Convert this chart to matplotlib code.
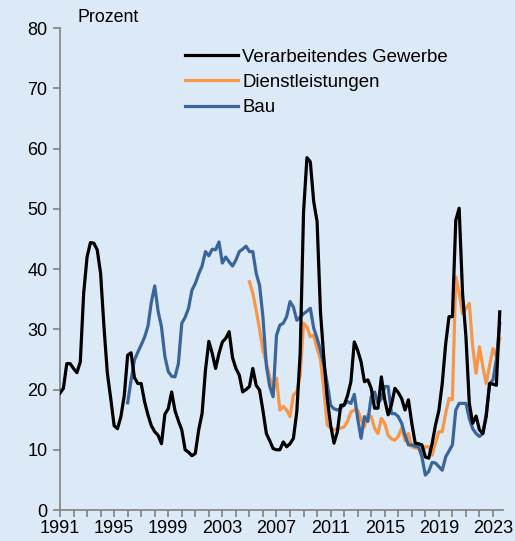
import matplotlib.pyplot as plt
import numpy as np
from matplotlib.ticker import MultipleLocator, FixedLocator

# Quartalswerte, Prozent
verarbeitendes = [19.4, 20.2, 24.3, 24.3,
                  23.5, 22.8, 24.6, 36.0,
                  42.0, 44.4, 44.3, 43.2,
                  39.3, 30.4, 22.7, 18.5,
                  14.0, 13.5, 15.5, 19.0,
                  25.7, 26.1, 22.0, 21.0,
                  21.0, 18.0, 15.8, 14.0,
                  13.0, 12.4, 11.0, 15.9,
                  16.8, 19.6, 16.5, 14.8,
                  13.3, 10.0, 9.6, 9.0,
                  9.4, 13.3, 16.0, 23.2,
                  28.0, 26.0, 23.5, 26.0,
                  27.9, 28.5, 29.6, 25.3,
                  23.5, 22.4, 19.6, 20.0,
                  20.5, 23.5, 20.7, 19.9,
                  16.5, 12.7, 11.5, 10.2,
                  10.0, 10.0, 11.3, 10.5,
                  11.0, 11.9, 16.3, 26.0,
                  49.5, 58.5, 57.8, 51.2,
                  47.9, 32.9, 25.2, 18.5,
                  14.1, 11.1, 13.0, 17.4,
                  17.4, 19.0, 21.3, 27.9,
                  26.5, 24.6, 21.3, 21.6,
                  20.2, 16.9, 16.9, 22.1,
                  18.3, 15.8, 17.5, 20.2,
                  19.5, 18.5, 16.6, 18.3,
                  14.4, 11.1, 11.0, 10.8,
                  8.8, 8.6, 11.0, 14.1,
                  16.5, 21.0, 27.5, 32.1,
                  32.1, 48.1, 50.1, 36.0,
                  28.8, 17.7, 14.4, 15.6,
                  13.3, 12.7, 15.5, 21.0,
                  20.9, 20.7, 32.9]

dienstleistungen = [37.9, 36.0, 33.2, 30.0,
                    26.5, 24.5, 22.0, 19.6,
                    21.9, 16.6, 17.2, 16.6,
                    15.5, 19.1, 19.6, 22.4,
                    31.0, 30.4, 28.8, 29.0,
                    26.8, 25.0, 20.0, 14.1,
                    13.6, 13.3, 13.5, 13.6,
                    13.8, 14.7, 16.3, 16.6,
                    16.6, 15.0, 13.8, 15.8,
                    15.5, 13.6, 12.7, 15.2,
                    14.4, 12.4, 11.8, 11.6,
                    12.2, 13.6, 11.5, 12.7,
                    10.5, 10.3, 10.2, 9.7,
                    10.5, 10.5, 9.1, 11.1,
                    13.0, 13.0, 16.0, 18.5,
                    18.3, 38.7, 36.0, 32.6,
                    33.5, 34.3, 27.1, 22.7,
                    27.1, 23.8, 21.0, 24.0,
                    26.8, 25.4, 28.5]

bau = [17.8, 21.5, 24.9, 26.2,
       27.4, 28.7, 30.5, 34.5,
       37.2, 33.0, 30.4, 25.5,
       23.0, 22.2, 22.1, 24.3,
       31.0, 32.0, 33.5, 36.5,
       37.6, 39.2, 40.5, 42.9,
       42.2, 43.3, 43.2, 44.5,
       41.0, 42.0, 41.2, 40.5,
       41.5, 42.9, 43.3, 43.8,
       42.9, 42.9, 39.3, 37.3,
       32.0, 24.0, 20.5, 18.8,
       29.0, 30.7, 31.0, 32.1,
       34.6, 33.7, 31.5, 32.0,
       32.6, 33.0, 33.5, 30.2,
       28.5, 26.5, 24.1, 21.0,
       17.4, 16.8, 16.6, 16.9,
       17.5, 18.0, 17.7, 19.2,
       15.2, 11.9, 15.5, 14.7,
       18.8, 19.6, 17.7, 18.5,
       20.5, 20.5, 16.0, 16.0,
       15.5, 14.4, 12.4, 10.8,
       10.8, 10.6, 10.5, 8.8,
       5.8, 6.4, 7.9, 7.8,
       7.2, 6.6, 8.8, 9.8,
       10.8, 16.6, 17.7, 17.7,
       17.7, 15.2, 13.5, 12.7,
       12.2, 12.7, 16.0, 21.0,
       21.6, 25.0, 31.0]

jahre_beschriftet = list(range(1991, 2024, 4))

# Zeitachse (Quartale)
x_verarb = 1991 + np.arange(len(verarbeitendes)) / 4
x_dienst = 2005 + np.arange(len(dienstleistungen)) / 4
x_bau = 1996 + np.arange(len(bau)) / 4

plt.rcParams['font.family'] = ['Liberation Sans', 'DejaVu Sans']
bg = '#DCE9F7'

fig = plt.figure(figsize=(5.15, 5.41), dpi=100, facecolor=bg)
ax = fig.add_axes([0.1165, 0.0573, 0.8602, 0.8907], facecolor=bg)

ax.plot(x_verarb, verarbeitendes, color='black', linewidth=2.3, label='Verarbeitendes Gewerbe', zorder=4)
ax.plot(x_dienst, dienstleistungen, color='#F79646', linewidth=2.3, label='Dienstleistungen', zorder=2)
ax.plot(x_bau, bau, color='#3A659A', linewidth=2.3, label='Bau', zorder=3)

ax.set_xlim(1991, 2023.74)
ax.set_ylim(0, 80)

# Achsen
for s in ['top', 'right']:
    ax.spines[s].set_visible(False)
for s in ['left', 'bottom']:
    ax.spines[s].set_color('#808080')
    ax.spines[s].set_linewidth(1.2)

ax.xaxis.set_major_locator(FixedLocator(jahre_beschriftet))
ax.xaxis.set_minor_locator(MultipleLocator(1))
ax.yaxis.set_major_locator(MultipleLocator(10))
ax.tick_params(axis='both', which='both', direction='out', length=5, width=1.2,
               color='#808080', labelsize=13, labelcolor='black')
ax.tick_params(axis='x', pad=2)
ax.tick_params(axis='y', pad=4)

ax.text(0.04, 1.005, 'Prozent', transform=ax.transAxes, fontsize=12.8, va='bottom', ha='left')

leg = ax.legend(loc='upper left', bbox_to_anchor=(0.261, 0.977), frameon=False, fontsize=13.4,
                handlelength=2.85, handletextpad=0.22, labelspacing=0.45, borderpad=0)

plt.savefig('out.png', dpi=100, facecolor=bg)
